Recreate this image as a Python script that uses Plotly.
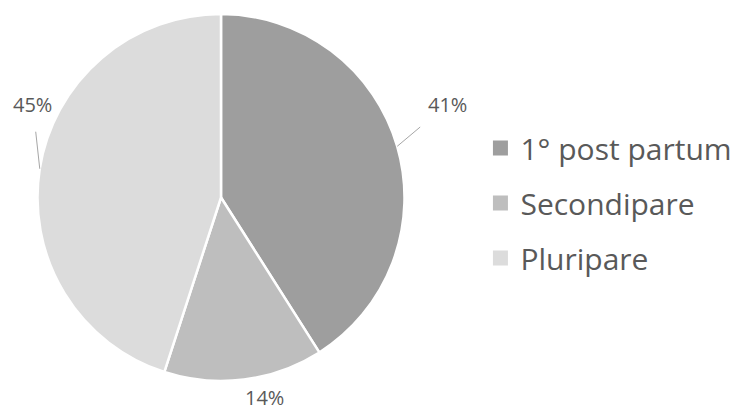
import math
import plotly.graph_objects as go

categories = ["1° post partum", "Secondipare", "Pluripare"]
values = [41, 14, 45]
colors = ["#9e9e9e", "#bebebe", "#dcdcdc"]

W, H = 738, 410
# pie box in pixels (layout)
dom_x = [37 / W, 405 / W]
dom_y = [1 - 381 / H, 1 - 14 / H]

fig = go.Figure()
fig.add_trace(go.Pie(
    labels=categories,
    values=values,
    sort=False,
    direction="clockwise",
    rotation=0,
    automargin=False,
    marker=dict(colors=colors, line=dict(color="white", width=2.5)),
    textinfo="none",
    domain=dict(x=dom_x, y=dom_y),
    hoverinfo="label+percent",
    showlegend=False,
))

# percent labels with leader lines, anchored at each slice's mid-angle on the rim
label_offsets = [(50, -42, True), (21, 18, False), (-7, -64, True)]  # (dx, dy px, leader)
cx = (dom_x[0] + dom_x[1]) / 2 * W
cy = (1 - (dom_y[0] + dom_y[1]) / 2) * H
r = min((dom_x[1] - dom_x[0]) * W, (dom_y[1] - dom_y[0]) * H) / 2
total = sum(values)
cum = 0
for v, (dx, dy, leader) in zip(values, label_offsets):
    mid = (cum + v / 2) / total * 2 * math.pi
    cum += v
    px = cx + r * math.sin(mid)
    py = cy - r * math.cos(mid)
    pct = f"{round(100 * v / total)}%"
    common = dict(x=px / W, y=1 - py / H, xref="paper", yref="paper", text=pct,
                  xanchor="center", yanchor="middle",
                  font=dict(size=20, color="#595959", family="Open Sans"))
    if leader:
        fig.add_annotation(**common, showarrow=True, ax=dx, ay=dy, arrowhead=0,
                           arrowwidth=1, arrowcolor="#a6a6a6", standoff=0,
                           startstandoff=12)
    else:
        fig.add_annotation(**common, showarrow=False, xshift=dx, yshift=-dy)

for name, col in zip(categories, colors):
    fig.add_trace(go.Scatter(
        x=[None], y=[None], mode="markers", name=name,
        marker=dict(symbol="square", size=15, color=col),
        legendgroup=name, showlegend=True, hoverinfo="skip",
    ))

fig.update_layout(
    width=W, height=H,
    margin=dict(l=0, r=0, t=0, b=0, autoexpand=False),
    paper_bgcolor="white", plot_bgcolor="white",
    xaxis=dict(visible=False), yaxis=dict(visible=False),
    showlegend=True,
    legend=dict(
        x=0.651, y=0.505, xanchor="left", yanchor="middle",
        font=dict(size=30, color="#595959", family="Open Sans"),
        tracegroupgap=13, itemsizing="trace", itemwidth=30,
    ),
)

fig.write_html("out.html", config={"displayModeBar": False},
               post_script="document.body.style.margin='0px';")
